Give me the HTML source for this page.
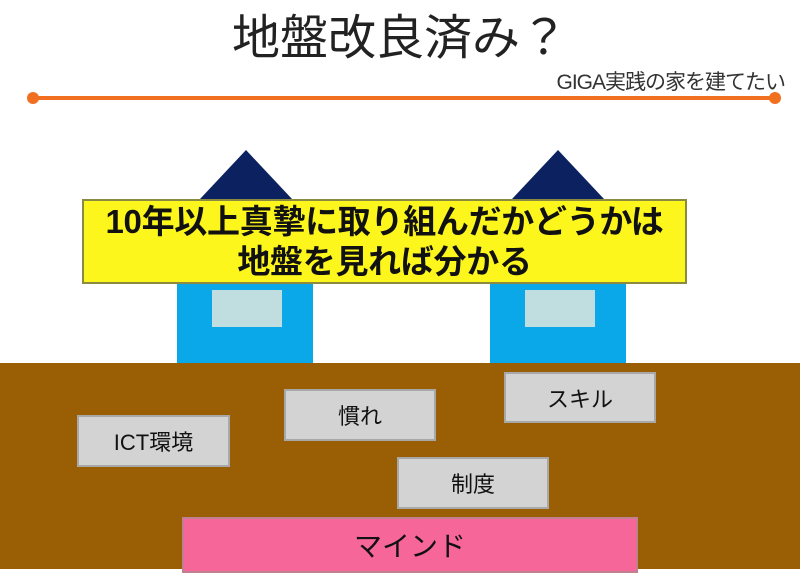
<!DOCTYPE html>
<html><head><meta charset="utf-8"><style>
*{margin:0;padding:0;box-sizing:border-box}
body{width:800px;height:569px;position:relative;background:#fff;overflow:hidden;font-family:"Liberation Sans","Noto Sans CJK JP",sans-serif;color:#111}
.a{position:absolute}
.box{position:absolute;background:#d3d3d3;border:2px solid #a8a8a8;display:flex;align-items:center;justify-content:center;font-size:22px}
</style></head><body>
<div class="a" style="left:0;top:10px;width:800px;text-align:center;font-size:48px;line-height:58px;color:#222">地盤改良済み？</div>
<div class="a" style="left:530px;top:71px;width:255px;text-align:right;font-size:21px;line-height:24px;letter-spacing:-1px;color:#333">GIGA実践の家を建てたい</div>
<div class="a" style="left:33px;top:96px;width:742px;height:4px;background:#f07020"></div>
<div class="a" style="left:27px;top:92px;width:12px;height:12px;border-radius:50%;background:#f07020"></div>
<div class="a" style="left:769px;top:92px;width:12px;height:12px;border-radius:50%;background:#f07020"></div>
<svg class="a" style="left:0;top:0" width="800" height="569">
<polygon points="246,150 200,199 292,199" fill="#0b2160"/>
<polygon points="558,150 512,199 604,199" fill="#0b2160"/>
<rect x="177" y="280" width="136" height="83" fill="#0aa8e8"/>
<rect x="490" y="280" width="136" height="83" fill="#0aa8e8"/>
<rect x="212" y="290" width="70" height="37" fill="#c0dde0"/>
<rect x="525" y="290" width="70" height="37" fill="#c0dde0"/>
<rect x="0" y="363" width="800" height="206" fill="#9a5e05"/>
</svg>
<div class="a" style="left:82px;top:199px;width:605px;height:85px;background:#fcf61c;border:2px solid #8a8a40;text-align:center;font-size:33px;font-weight:bold;line-height:40px;padding-top:1px;letter-spacing:-0.3px">10年以上真摯に取り組んだかどうかは<br>地盤を見れば分かる</div>
<div class="box" style="left:77px;top:415px;width:153px;height:52px">ICT環境</div>
<div class="box" style="left:284px;top:389px;width:152px;height:52px">慣れ</div>
<div class="box" style="left:504px;top:372px;width:152px;height:51px">スキル</div>
<div class="box" style="left:397px;top:457px;width:152px;height:52px">制度</div>
<div class="box" style="left:182px;top:517px;width:456px;height:56px;background:#f76699;border-color:#c08090;font-size:28px">マインド</div>
</body></html>
